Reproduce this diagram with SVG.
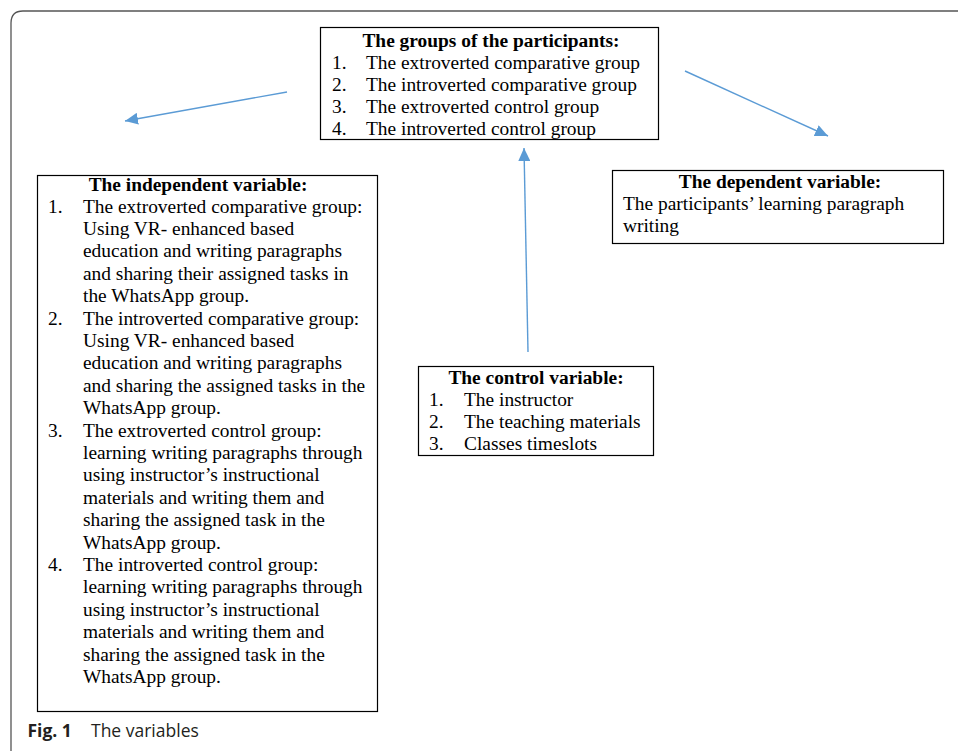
<svg xmlns="http://www.w3.org/2000/svg" width="958" height="751" viewBox="0 0 958 751">
<style>
.box{fill:#fff;stroke:#000;stroke-width:1.2}
.t{font-family:"Liberation Serif","Times New Roman",serif;font-size:19.4px;fill:#000}
.b{font-weight:bold}
.c{text-anchor:middle}
.conn{stroke:#5B9BD5;stroke-width:1.4;fill:none;marker-end:url(#ah)}
.cap{font-family:"Open Sans","Noto Sans",sans-serif;font-size:17.5px;fill:#231f20}
</style>
<defs>
<marker id="ah" markerUnits="userSpaceOnUse" markerWidth="14" markerHeight="12" refX="13" refY="6" orient="auto">
<path d="M0,0 L13,6 L0,12 Z" fill="#5B9BD5"/>
</marker>
</defs>
<rect width="958" height="751" fill="#fff"/>
<path d="M11,751 V23 Q11,11 23,11 H958" fill="none" stroke="#555" stroke-width="1.3"/>
<g id="connectors">
<line class="conn" x1="287" y1="92" x2="125" y2="121"/>
<line class="conn" x1="685" y1="71" x2="828" y2="136"/>
<line class="conn" x1="528" y1="352" x2="524" y2="148"/>
</g>
<g id="groups">
<rect class="box" x="320.5" y="27.5" width="338" height="112"/>
<text class="t b c" x="491" y="47">The groups of the participants:</text>
<text class="t" x="332" y="69">1.</text><text class="t" x="366" y="69">The extroverted comparative group</text>
<text class="t" x="332" y="91">2.</text><text class="t" x="366" y="91">The introverted comparative group</text>
<text class="t" x="332" y="113">3.</text><text class="t" x="366" y="113">The extroverted control group</text>
<text class="t" x="332" y="135">4.</text><text class="t" x="366" y="135">The introverted control group</text>
</g>
<g id="independent">
<rect class="box" x="37.5" y="175.5" width="340" height="536"/>
<text class="t b c" x="198" y="191">The independent variable:</text>
<text class="t" x="48" y="212.5">1.</text>
<text class="t" x="83" y="212.5">The extroverted comparative group:</text>
<text class="t" x="83" y="234.9">Using VR- enhanced based</text>
<text class="t" x="83" y="257.3">education and writing paragraphs</text>
<text class="t" x="83" y="279.7">and sharing their assigned tasks in</text>
<text class="t" x="83" y="302.1">the WhatsApp group.</text>
<text class="t" x="48" y="324.5">2.</text>
<text class="t" x="83" y="324.5">The introverted comparative group:</text>
<text class="t" x="83" y="346.9">Using VR- enhanced based</text>
<text class="t" x="83" y="369.3">education and writing paragraphs</text>
<text class="t" x="83" y="391.7">and sharing the assigned tasks in the</text>
<text class="t" x="83" y="414.1">WhatsApp group.</text>
<text class="t" x="48" y="436.5">3.</text>
<text class="t" x="83" y="436.5">The extroverted control group:</text>
<text class="t" x="83" y="458.9">learning writing paragraphs through</text>
<text class="t" x="83" y="481.3">using instructor’s instructional</text>
<text class="t" x="83" y="503.7">materials and writing them and</text>
<text class="t" x="83" y="526.1">sharing the assigned task in the</text>
<text class="t" x="83" y="548.5">WhatsApp group.</text>
<text class="t" x="48" y="570.9">4.</text>
<text class="t" x="83" y="570.9">The introverted control group:</text>
<text class="t" x="83" y="593.3">learning writing paragraphs through</text>
<text class="t" x="83" y="615.7">using instructor’s instructional</text>
<text class="t" x="83" y="638.1">materials and writing them and</text>
<text class="t" x="83" y="660.5">sharing the assigned task in the</text>
<text class="t" x="83" y="682.9">WhatsApp group.</text>
</g>
<g id="dependent">
<rect class="box" x="612.5" y="170.5" width="331" height="73"/>
<text class="t b c" x="780" y="188">The dependent variable:</text>
<text class="t" x="623" y="210">The participants’ learning paragraph</text>
<text class="t" x="623" y="232">writing</text>
</g>
<g id="control">
<rect class="box" x="418.5" y="366.5" width="235" height="89"/>
<text class="t b c" x="536" y="384">The control variable:</text>
<text class="t" x="429" y="406">1.</text><text class="t" x="464" y="406">The instructor</text>
<text class="t" x="429" y="428">2.</text><text class="t" x="464" y="428">The teaching materials</text>
<text class="t" x="429" y="450">3.</text><text class="t" x="464" y="450">Classes timeslots</text>
</g>
<g id="caption">
<text class="cap" x="27.5" y="737" font-weight="bold" font-size="18.5px">Fig. 1</text>
<text class="cap" x="91" y="737">The variables</text>
</g>
</svg>
